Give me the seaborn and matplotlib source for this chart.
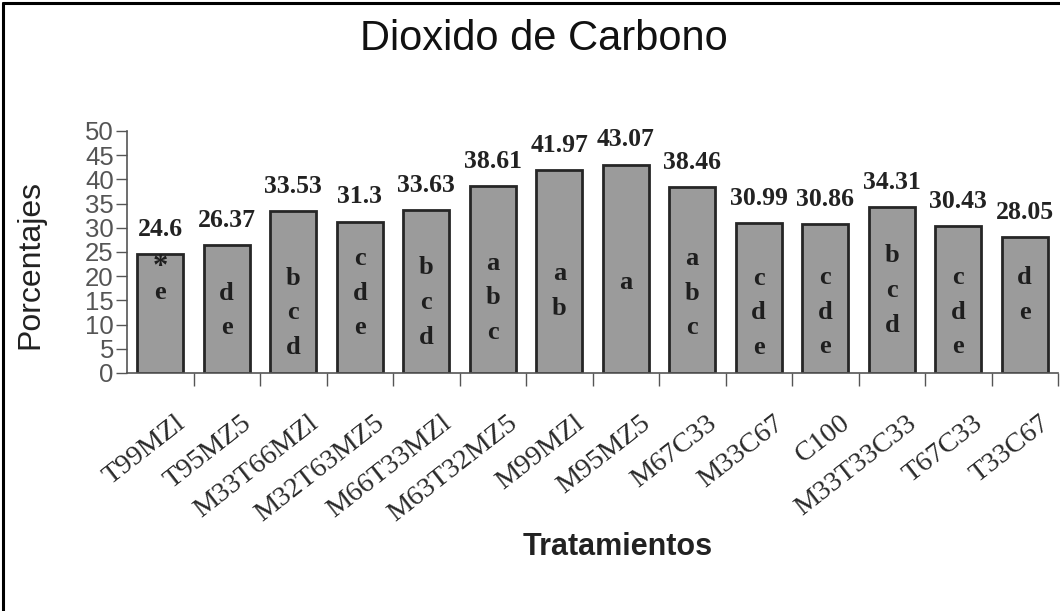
import matplotlib
matplotlib.use("Agg")
import matplotlib.pyplot as plt
import matplotlib.transforms as mtransforms
from matplotlib.lines import Line2D
import seaborn as sns
import pandas as pd

# ---- data ----
treatments = ["T99MZ1", "T95MZ5", "M33T66MZ1", "M32T63MZ5", "M66T33MZ1",
              "M63T32MZ5", "M99MZ1", "M95MZ5", "M67C33", "M33C67",
              "C100", "M33T33C33", "T67C33", "T33C67"]
tick_labels = ["T99MZl", "T95MZ5", "M33T66MZl", "M32T63MZ5", "M66T33MZl",
               "M63T32MZ5", "M99MZl", "M95MZ5", "M67C33", "M33C67",
               "C100", "M33T33C33", "T67C33", "T33C67"]
percent = [24.6, 26.37, 33.53, 31.3, 33.63, 38.61, 41.97, 43.07, 38.46,
           30.99, 30.86, 34.31, 30.43, 28.05]
groups = [["*", "e"], ["d", "e"], ["b", "c", "d"], ["c", "d", "e"],
          ["b", "c", "d"], ["a", "b", "c"], ["a", "b"], ["a"],
          ["a", "b", "c"], ["c", "d", "e"], ["c", "d", "e"],
          ["b", "c", "d"], ["c", "d", "e"], ["d", "e"]]

# ---- layout (letter group centres inside bars, data units) ----
letter_mid = [19.2, 12.9, 12.4, 16.5, 14.5, 15.5, 17.0, 18.8, 16.5, 12.4,
              12.6, 17.1, 12.6, 16.1]

df = pd.DataFrame({"Tratamiento": treatments, "Porcentaje": percent})

sns.set_style("white")
plt.rcParams["font.family"] = ["Liberation Sans", "DejaVu Sans"]
serif = ["Liberation Serif", "DejaVu Serif"]

fig = plt.figure(figsize=(10.6, 6.11), dpi=100)
ax = fig.add_axes([127 / 1060, 1 - 373 / 611, 931 / 1060, 242 / 611])

sns.barplot(data=df, x="Tratamiento", y="Porcentaje", order=treatments,
            color="#9b9b9b", saturation=1, edgecolor="#262626",
            linewidth=2, width=0.69, ax=ax)

ax.set_xlim(-0.5, len(treatments) - 0.5)
ax.set_ylim(0, 50)
ax.set_yticks(range(0, 51, 5))
ax.set_yticklabels([str(v) for v in range(0, 51, 5)], fontsize=18.5,
                   color="#555555")
ax.tick_params(axis="y", direction="out", length=8, width=1, pad=1.5,
               color="#555555", left=True)

# x: labels at bar centres, tick marks at category boundaries
ax.set_xticks(range(len(treatments)))
ax.set_xticklabels(tick_labels, rotation=38, ha="right",
                   rotation_mode="anchor", fontsize=20.5,
                   family=serif, color="#2a2a2a")
ax.tick_params(axis="x", which="major", length=0, pad=27)
ax.set_xticks([i + 0.5 for i in range(len(treatments))], minor=True)
ax.tick_params(axis="x", which="minor", direction="out", length=9, width=1,
               color="#555555", bottom=True)
offset = mtransforms.ScaledTranslation(14 / 100, 0, fig.dpi_scale_trans)
for lab in ax.get_xticklabels():
    lab.set_transform(lab.get_transform() + offset)

for s in ["top", "right"]:
    ax.spines[s].set_visible(False)
for s in ["left", "bottom"]:
    ax.spines[s].set_color("#555555")
    ax.spines[s].set_linewidth(1.2)

ax.set_xlabel("")
ax.set_ylabel("Porcentajes", fontsize=23, color="#222222")
ax.yaxis.set_label_coords(-0.088, 0.45)

# value labels above bars
for i, v in enumerate(percent):
    ax.annotate(f"{v:g}", (i, v), xytext=(0, 13), textcoords="offset points",
                ha="center", va="baseline", fontsize=18.5, fontweight="bold",
                family=serif, color="#222222")

# significance letters inside bars
step = 7.2
for i, letters in enumerate(groups):
    n = len(letters)
    st = 5.0 if letters[0] == "*" else step
    top = letter_mid[i] + st * (n - 1) / 2
    for k, ch in enumerate(letters):
        ax.text(i, top - k * st, ch, ha="center", va="center",
                fontsize=22 if ch == "*" else 19, fontweight="bold",
                family=serif, color="#1e1e1e")

fig.text(544 / 1060, 1 - 50 / 611, "Dioxido de Carbono", ha="center",
         va="baseline", fontsize=30, color="#111111")
fig.text(618 / 1060, 1 - 555 / 611, "Tratamientos", ha="center",
         va="baseline", fontsize=22, fontweight="bold", color="#222222")

# figure frame (left and top)
fig.add_artist(Line2D([3 / 1060, 3 / 1060], [0, 1 - 3 / 611],
                      transform=fig.transFigure, color="black", lw=2.2))
fig.add_artist(Line2D([3 / 1060, 1], [1 - 3 / 611, 1 - 3 / 611],
                      transform=fig.transFigure, color="black", lw=2.2))

fig.savefig("out.png", dpi=100)
